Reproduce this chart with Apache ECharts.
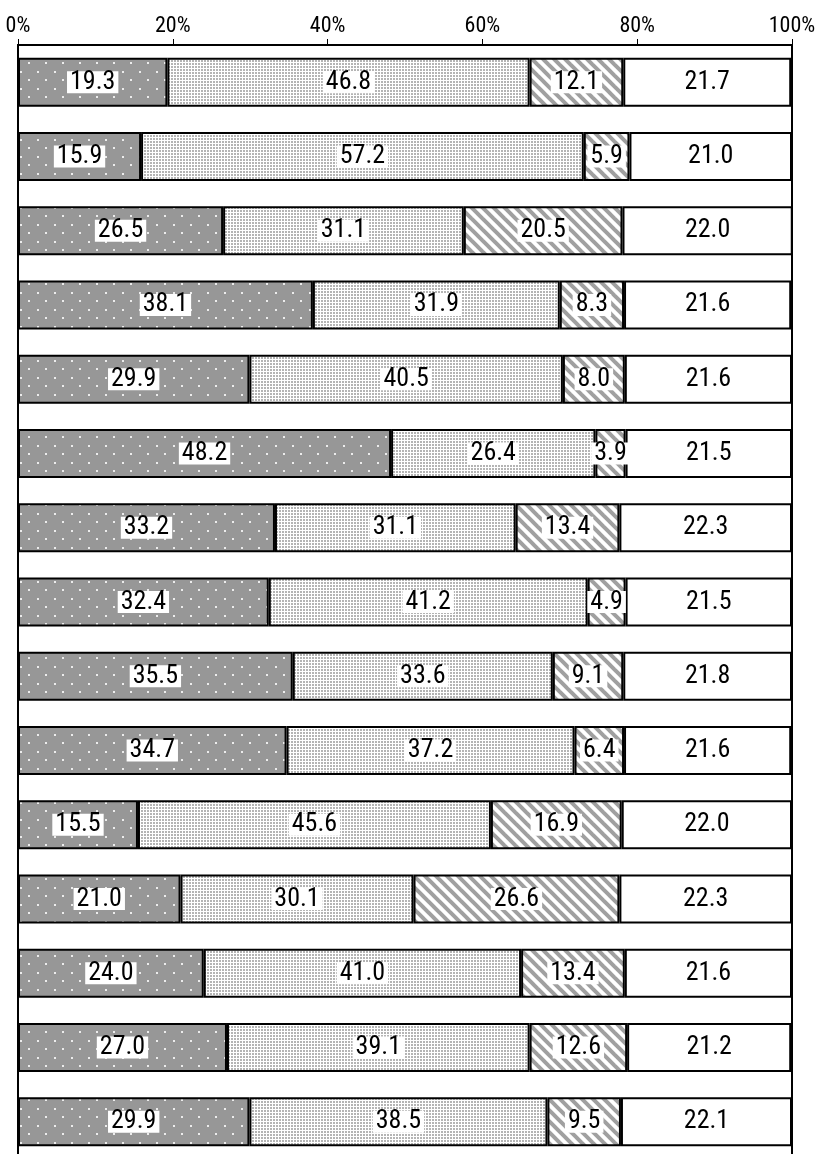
<!DOCTYPE html>
<html>
<head>
<meta charset="utf-8">
<script src="https://cdn.jsdelivr.net/npm/echarts@6/dist/echarts.min.js"></script>
<style>
  html, body { margin: 0; padding: 0; background: #fff; }
</style>
</head>
<body>
<div id="chart" style="width: 817px; height: 1154px"></div>
<script>
const categories = ["1", "2", "3", "4", "5", "6", "7", "8", "9", "10", "11", "12", "13", "14", "15"];
const seriesA = [19.3, 15.9, 26.5, 38.1, 29.9, 48.2, 33.2, 32.4, 35.5, 34.7, 15.5, 21.0, 24.0, 27.0, 29.9];
const seriesB = [46.8, 57.2, 31.1, 31.9, 40.5, 26.4, 31.1, 41.2, 33.6, 37.2, 45.6, 30.1, 41.0, 39.1, 38.5];
const seriesC = [12.1, 5.9, 20.5, 8.3, 8.0, 3.9, 13.4, 4.9, 9.1, 6.4, 16.9, 26.6, 13.4, 12.6, 9.5];
const seriesD = [21.7, 21.0, 22.0, 21.6, 21.6, 21.5, 22.3, 21.5, 21.8, 21.6, 22.0, 22.3, 21.6, 21.2, 22.1];

// narrow font via the "condensed" keyword in the canvas font string
const FONT = "Roboto";
const STRETCH = "condensed";

// pattern tiles
function tile(w, h, draw) {
  const c = document.createElement("canvas");
  c.width = w;
  c.height = h;
  draw(c.getContext("2d"));
  return c;
}

const dotsDark = tile(17, 17, function (ctx) {
  ctx.fillStyle = "#979797";
  ctx.fillRect(0, 0, 17, 17);
  ctx.fillStyle = "#ececec";
  ctx.fillRect(3, 3, 2, 2);
  ctx.fillRect(11, 11, 2, 2);
});

const dotsLight = tile(3, 3, function (ctx) {
  ctx.fillStyle = "#ffffff";
  ctx.fillRect(0, 0, 3, 3);
  ctx.fillStyle = "#b4b4b4";
  ctx.fillRect(0, 0, 2, 2);
});

const stripes = tile(11, 11, function (ctx) {
  ctx.fillStyle = "#ffffff";
  ctx.fillRect(0, 0, 11, 11);
  ctx.strokeStyle = "#a0a0a0";
  ctx.lineWidth = 4;
  for (let k = -2; k <= 2; k++) {
    ctx.beginPath();
    ctx.moveTo(k * 11 - 5, -5);
    ctx.lineTo(k * 11 + 16, 16);
    ctx.stroke();
  }
});

function makeSeries(name, data, fill) {
  return {
    name: name,
    type: "bar",
    stack: "total",
    barWidth: 49,
    data: data,
    itemStyle: {
      color: fill,
      borderColor: "#000",
      borderWidth: 2,
    },
    label: {
      show: true,
      position: "inside",
      formatter: function (p) {
        return p.value.toFixed(1);
      },
      color: "#000",
      fontStyle: STRETCH,
      fontFamily: FONT,
      fontSize: 26,
      backgroundColor: "#fff",
      padding: [0, 3, 0, 3],
      lineHeight: 22,
    },
  };
}

let myChart = echarts.init(document.getElementById("chart"));
myChart.setOption({
  animation: false,
  backgroundColor: "#fff",
  grid: {
    left: 18,
    right: 25,
    top: 45,
    bottom: -5,
    outerBoundsMode: "none",
    containLabel: false,
    show: true,
    borderColor: "#000",
    borderWidth: 2,
  },
  xAxis: {
    type: "value",
    position: "top",
    min: 0,
    max: 100,
    interval: 20,
    axisLine: { show: true, lineStyle: { color: "#000", width: 2 } },
    axisTick: { show: true, length: 6, lineStyle: { color: "#000", width: 1 } },
    splitLine: { show: false },
    axisLabel: {
      formatter: "{value}%",
      color: "#000",
      fontStyle: STRETCH,
      fontFamily: FONT,
      fontSize: 22,
      margin: 8,
    },
  },
  yAxis: {
    type: "category",
    data: categories,
    inverse: true,
    axisLine: { show: true, lineStyle: { color: "#000", width: 2 } },
    axisTick: { show: false },
    axisLabel: { show: false },
  },
  series: [
    makeSeries("A", seriesA, { image: dotsDark, repeat: "repeat" }),
    makeSeries("B", seriesB, { image: dotsLight, repeat: "repeat" }),
    makeSeries("C", seriesC, { image: stripes, repeat: "repeat" }),
    makeSeries("D", seriesD, "#fff"),
  ],
});
</script>
</body>
</html>
